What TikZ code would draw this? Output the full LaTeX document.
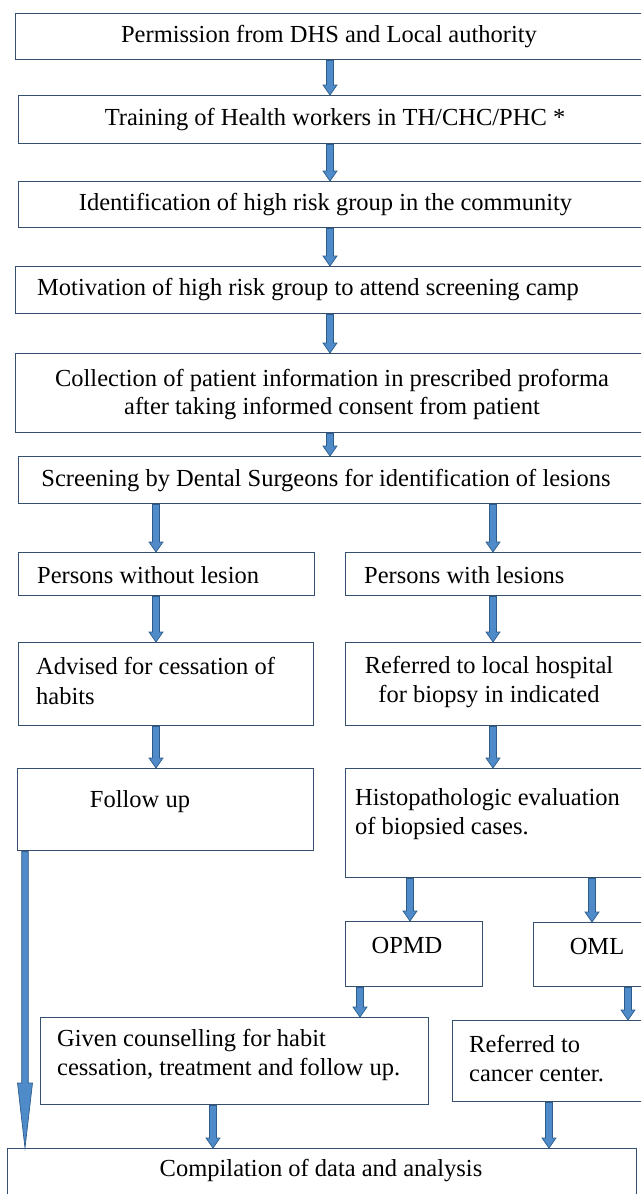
\documentclass[tikz,border=0pt]{standalone}
\usepackage{fontspec}
\setmainfont{Liberation Serif}
\newfontfamily\timesx{Liberation Serif}
\usetikzlibrary{calc}
\definecolor{boxc}{HTML}{34506E}
\definecolor{arrf}{HTML}{4F8BC9}
\definecolor{arrd}{HTML}{2D5C8A}
\tikzset{
 box/.style={draw=boxc, line width=1.4pt, fill=white, anchor=north west, inner sep=0pt},
 txt/.style={font=\timesx\fontsize{24.5}{29.5}\selectfont, inner sep=0pt, text=black},
 barrow/.style n args={3}{fill=arrf, draw=arrd, line width=0.7pt,
   to path={let \p1=(\tikztostart), \p2=(\tikztotarget) in
     (\x1-#1,\y1) -- (\x1-#1,\y2+#3) -- (\x1-#2,\y2+#3) -- (\x1,\y2)
     -- (\x1+#2,\y2+#3) -- (\x1+#1,\y2+#3) -- (\x1+#1,\y1) -- cycle}},
 arr/.style={barrow={3.5pt}{7pt}{10pt}},
 longarr/.style={barrow={3.3pt}{7.5pt}{65pt}},
}
\begin{document}
\begin{tikzpicture}[x=1pt,y=-1pt]
\path[use as bounding box] (0,0) rectangle (641,1194);
\clip (0,0) rectangle (641,1194);
% boxes
\node[box, minimum width=629pt, minimum height=46pt] (b1) at (15,13) {};
\node[box, minimum width=626pt, minimum height=48pt] (b2) at (18,95) {};
\node[box, minimum width=626pt, minimum height=46pt] (b3) at (18,181) {};
\node[box, minimum width=629pt, minimum height=47pt] (b4) at (15,266) {};
\node[box, minimum width=629pt, minimum height=79pt] (b5) at (15,353) {};
\node[box, minimum width=626pt, minimum height=47pt] (b6) at (18,456) {};
\node[box, minimum width=296pt, minimum height=43pt] (b7L) at (18,552) {};
\node[box, minimum width=305pt, minimum height=43pt] (b7R) at (345,552) {};
\node[box, minimum width=295pt, minimum height=83pt] (b8L) at (18,642) {};
\node[box, minimum width=305pt, minimum height=83pt] (b8R) at (345,642) {};
\node[box, minimum width=296pt, minimum height=82pt] (b9L) at (17,768) {};
\node[box, minimum width=305pt, minimum height=109pt] (b9R) at (345,768) {};
\node[box, minimum width=137pt, minimum height=65pt] (opmd) at (345,921) {};
\node[box, minimum width=120pt, minimum height=64pt] (oml) at (533,922) {};
\node[box, minimum width=388pt, minimum height=87pt] (coun) at (40,1017) {};
\node[box, minimum width=200pt, minimum height=81pt] (canc) at (452,1020) {};
\node[box, minimum width=629pt, minimum height=60pt] (final) at (7,1148) {};
% texts
\node[txt] (t1) at (329,37) {Permission from DHS and Local authority};
\node[txt] (t2) at (335,120) {Training of Health workers in TH/CHC/PHC *};
\node[txt] (t3) at (325.5,205) {Identification of high risk group in the community};
\node[txt, anchor=west] (t4) at (37,290) {Motivation of high risk group to attend screening camp};
\node[txt, align=center, font=\timesx\fontsize{24.5}{28}\selectfont] (t5) at (332,395) {Collection of patient information in prescribed proforma\\after taking informed consent from patient};
\node[txt] (t6) at (326,481) {Screening by Dental Surgeons for identification of lesions};
\node[txt, anchor=west] (t7L) at (37,575) {Persons without lesion};
\node[txt, anchor=west] (t7R) at (364,575) {Persons with lesions};
\node[txt, anchor=west, align=left] (t8L) at (36,681) {Advised for cessation of\\habits};
\node[txt, align=center] (t8R) at (489,682) {Referred to local hospital\\for biopsy in indicated};
\node[txt] (t9L) at (140,802) {Follow up};
\node[txt, anchor=west, align=left] (t9R) at (355,814) {Histopathologic evaluation\\of biopsied cases.};
\node[txt] (topmd) at (407,945) {OPMD};
\node[txt] (toml) at (597,946) {OML};
\node[txt, anchor=west, align=left] (tcoun) at (57,1055) {Given counselling for habit\\cessation, treatment and follow up.};
\node[txt, anchor=west, align=left] (tcanc) at (469,1058.5) {Referred to\\cancer center.};
\node[txt] (tfinal) at (321,1171) {Compilation of data and analysis};
% arrow columns
\coordinate (cM) at (330,0);
\coordinate (cL) at (156,0);
\coordinate (cR) at (493,0);
\coordinate (cO) at (410,0);
\coordinate (cN) at (592,0);
\coordinate (cP) at (360,0);
\coordinate (cQ) at (628,0);
\coordinate (cS) at (213,0);
\coordinate (cT) at (549,0);
\coordinate (cF) at (25,0);
% arrows
\path[arr] (b1.south -| cM) to (b2.north -| cM);
\path[arr] (b2.south -| cM) to (b3.north -| cM);
\path[arr] (b3.south -| cM) to (b4.north -| cM);
\path[arr] (b4.south -| cM) to (b5.north -| cM);
\path[arr] (b5.south -| cM) to (b6.north -| cM);
\path[arr] (b6.south -| cL) to (b7L.north -| cL);
\path[arr] (b6.south -| cR) to (b7R.north -| cR);
\path[arr] (b7L.south -| cL) to (b8L.north -| cL);
\path[arr] (b7R.south -| cR) to (b8R.north -| cR);
\path[arr] (b8L.south -| cL) to (b9L.north -| cL);
\path[arr] (b8R.south -| cR) to (b9R.north -| cR);
\path[arr] (b9R.south -| cO) to (opmd.north -| cO);
\path[arr] (b9R.south -| cN) to (oml.north -| cN);
\path[arr] (opmd.south -| cP) to (coun.north -| cP);
\path[arr] (oml.south -| cQ) to (canc.north -| cQ);
\path[arr] (coun.south -| cS) to (final.north -| cS);
\path[arr] (canc.south -| cT) to (final.north -| cT);
\path[longarr] (b9L.south -| cF) to (final.north -| cF);
\end{tikzpicture}
\end{document}
